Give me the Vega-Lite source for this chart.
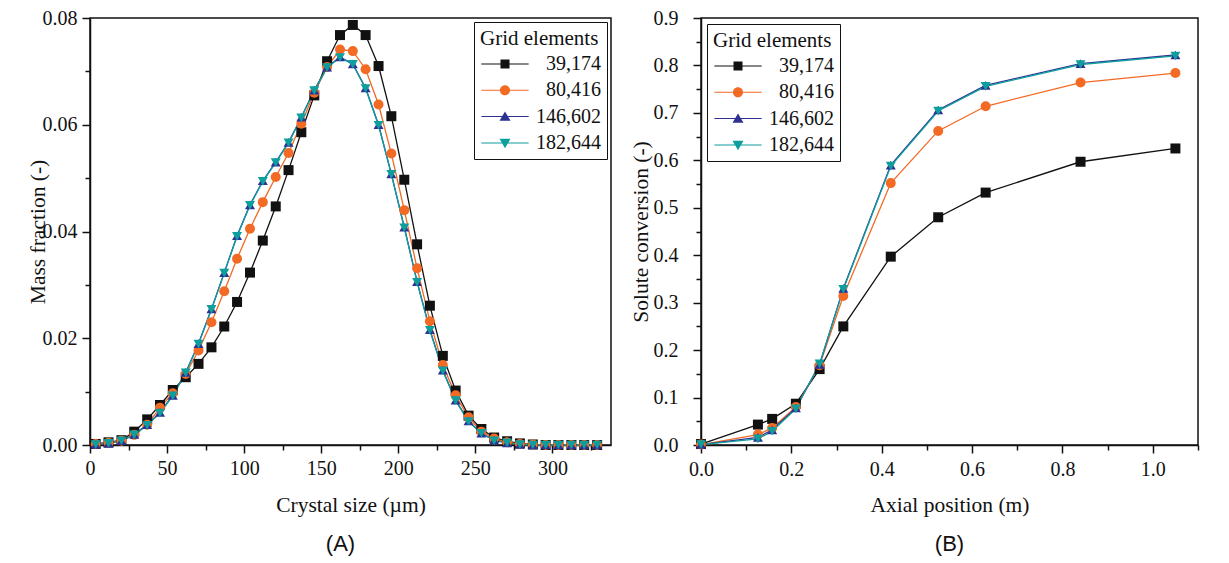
{
  "$schema": "https://vega.github.io/schema/vega-lite/v6.json",
  "background": "white",
  "padding": {"left": 26, "top": 7, "right": 0, "bottom": 0},
  "spacing": 17,
  "config": {
    "view": {"stroke": "#111111", "strokeWidth": 1.5},
    "axis": {
      "grid": false,
      "domainColor": "#111111",
      "domainWidth": 1.5,
      "tickColor": "#111111",
      "tickWidth": 1.5,
      "labelFont": "Liberation Serif",
      "labelFontSize": 20,
      "labelColor": "#111111",
      "titleFont": "Liberation Serif",
      "titleFontSize": 21.5,
      "titleFontWeight": "normal",
      "titleColor": "#111111"
    },
    "legend": {
      "fillColor": "white",
      "strokeColor": "#111111",
      "padding": 6,
      "titleFont": "Liberation Serif",
      "titleFontSize": 21,
      "titleFontWeight": "normal",
      "titleColor": "#111111",
      "titlePadding": 5,
      "labelFont": "Liberation Serif",
      "labelFontSize": 20,
      "labelColor": "#111111",
      "labelAlign": "right",
      "labelOffset": 86,
      "symbolOffset": 15,
      "symbolSize": 121,
      "symbolStrokeWidth": 0,
      "symbolOpacity": 1,
      "rowPadding": 6.3
    },
    "title": {"font": "Liberation Sans", "fontSize": 22, "fontWeight": "normal", "color": "#111111"}
  },
  "datasets": {
    "csd": [
      {"size": 3.7, "grid": "39,174", "mf": 0.0002}, {"size": 12.0, "grid": "39,174", "mf": 0.0005}, {"size": 20.4, "grid": "39,174", "mf": 0.0009}, {"size": 28.7, "grid": "39,174", "mf": 0.0025},
      {"size": 37.1, "grid": "39,174", "mf": 0.0048}, {"size": 45.4, "grid": "39,174", "mf": 0.0075}, {"size": 53.7, "grid": "39,174", "mf": 0.0103}, {"size": 62.1, "grid": "39,174", "mf": 0.0127},
      {"size": 70.4, "grid": "39,174", "mf": 0.0152}, {"size": 78.8, "grid": "39,174", "mf": 0.0183}, {"size": 87.1, "grid": "39,174", "mf": 0.0222}, {"size": 95.4, "grid": "39,174", "mf": 0.0268},
      {"size": 103.8, "grid": "39,174", "mf": 0.0323}, {"size": 112.1, "grid": "39,174", "mf": 0.0383}, {"size": 120.5, "grid": "39,174", "mf": 0.0447}, {"size": 128.8, "grid": "39,174", "mf": 0.0515},
      {"size": 137.1, "grid": "39,174", "mf": 0.0586}, {"size": 145.5, "grid": "39,174", "mf": 0.0655}, {"size": 153.8, "grid": "39,174", "mf": 0.0719}, {"size": 162.2, "grid": "39,174", "mf": 0.0768},
      {"size": 170.5, "grid": "39,174", "mf": 0.0787}, {"size": 178.8, "grid": "39,174", "mf": 0.0768}, {"size": 187.2, "grid": "39,174", "mf": 0.0710}, {"size": 195.5, "grid": "39,174", "mf": 0.0616},
      {"size": 203.9, "grid": "39,174", "mf": 0.0497}, {"size": 212.2, "grid": "39,174", "mf": 0.0376}, {"size": 220.5, "grid": "39,174", "mf": 0.0261}, {"size": 228.9, "grid": "39,174", "mf": 0.0167},
      {"size": 237.2, "grid": "39,174", "mf": 0.0102}, {"size": 245.6, "grid": "39,174", "mf": 0.0055}, {"size": 253.9, "grid": "39,174", "mf": 0.0030}, {"size": 262.2, "grid": "39,174", "mf": 0.0014},
      {"size": 270.6, "grid": "39,174", "mf": 0.0007}, {"size": 278.9, "grid": "39,174", "mf": 0.0003}, {"size": 287.3, "grid": "39,174", "mf": 0.0001}, {"size": 295.6, "grid": "39,174", "mf": 0.0},
      {"size": 303.9, "grid": "39,174", "mf": 0.0}, {"size": 312.3, "grid": "39,174", "mf": 0.0}, {"size": 320.6, "grid": "39,174", "mf": 0.0}, {"size": 329.0, "grid": "39,174", "mf": 0.0},

      {"size": 3.7, "grid": "80,416", "mf": 0.0002}, {"size": 12.0, "grid": "80,416", "mf": 0.0004}, {"size": 20.4, "grid": "80,416", "mf": 0.0008}, {"size": 28.7, "grid": "80,416", "mf": 0.0019},
      {"size": 37.1, "grid": "80,416", "mf": 0.0038}, {"size": 45.4, "grid": "80,416", "mf": 0.0070}, {"size": 53.7, "grid": "80,416", "mf": 0.0097}, {"size": 62.1, "grid": "80,416", "mf": 0.0133},
      {"size": 70.4, "grid": "80,416", "mf": 0.0177}, {"size": 78.8, "grid": "80,416", "mf": 0.0230}, {"size": 87.1, "grid": "80,416", "mf": 0.0288}, {"size": 95.4, "grid": "80,416", "mf": 0.0349},
      {"size": 103.8, "grid": "80,416", "mf": 0.0405}, {"size": 112.1, "grid": "80,416", "mf": 0.0455}, {"size": 120.5, "grid": "80,416", "mf": 0.0502}, {"size": 128.8, "grid": "80,416", "mf": 0.0547},
      {"size": 137.1, "grid": "80,416", "mf": 0.0602}, {"size": 145.5, "grid": "80,416", "mf": 0.0660}, {"size": 153.8, "grid": "80,416", "mf": 0.0708}, {"size": 162.2, "grid": "80,416", "mf": 0.0741},
      {"size": 170.5, "grid": "80,416", "mf": 0.0738}, {"size": 178.8, "grid": "80,416", "mf": 0.0704}, {"size": 187.2, "grid": "80,416", "mf": 0.0638}, {"size": 195.5, "grid": "80,416", "mf": 0.0546},
      {"size": 203.9, "grid": "80,416", "mf": 0.0440}, {"size": 212.2, "grid": "80,416", "mf": 0.0331}, {"size": 220.5, "grid": "80,416", "mf": 0.0232}, {"size": 228.9, "grid": "80,416", "mf": 0.0150},
      {"size": 237.2, "grid": "80,416", "mf": 0.0093}, {"size": 245.6, "grid": "80,416", "mf": 0.0052}, {"size": 253.9, "grid": "80,416", "mf": 0.0025}, {"size": 262.2, "grid": "80,416", "mf": 0.0012},
      {"size": 270.6, "grid": "80,416", "mf": 0.0005}, {"size": 278.9, "grid": "80,416", "mf": 0.0002}, {"size": 287.3, "grid": "80,416", "mf": 0.0001}, {"size": 295.6, "grid": "80,416", "mf": 0.0},
      {"size": 303.9, "grid": "80,416", "mf": 0.0}, {"size": 312.3, "grid": "80,416", "mf": 0.0}, {"size": 320.6, "grid": "80,416", "mf": 0.0}, {"size": 329.0, "grid": "80,416", "mf": 0.0},

      {"size": 3.7, "grid": "146,602", "mf": 0.0001}, {"size": 12.0, "grid": "146,602", "mf": 0.0003}, {"size": 20.4, "grid": "146,602", "mf": 0.0008}, {"size": 28.7, "grid": "146,602", "mf": 0.0020},
      {"size": 37.1, "grid": "146,602", "mf": 0.0038}, {"size": 45.4, "grid": "146,602", "mf": 0.0061}, {"size": 53.7, "grid": "146,602", "mf": 0.0093}, {"size": 62.1, "grid": "146,602", "mf": 0.0136},
      {"size": 70.4, "grid": "146,602", "mf": 0.0190}, {"size": 78.8, "grid": "146,602", "mf": 0.0255}, {"size": 87.1, "grid": "146,602", "mf": 0.0323}, {"size": 95.4, "grid": "146,602", "mf": 0.0392},
      {"size": 103.8, "grid": "146,602", "mf": 0.0450}, {"size": 112.1, "grid": "146,602", "mf": 0.0495}, {"size": 120.5, "grid": "146,602", "mf": 0.0530}, {"size": 128.8, "grid": "146,602", "mf": 0.0567},
      {"size": 137.1, "grid": "146,602", "mf": 0.0614}, {"size": 145.5, "grid": "146,602", "mf": 0.0665}, {"size": 153.8, "grid": "146,602", "mf": 0.0708}, {"size": 162.2, "grid": "146,602", "mf": 0.0727},
      {"size": 170.5, "grid": "146,602", "mf": 0.0714}, {"size": 178.8, "grid": "146,602", "mf": 0.0669}, {"size": 187.2, "grid": "146,602", "mf": 0.0600}, {"size": 195.5, "grid": "146,602", "mf": 0.0508},
      {"size": 203.9, "grid": "146,602", "mf": 0.0408}, {"size": 212.2, "grid": "146,602", "mf": 0.0306}, {"size": 220.5, "grid": "146,602", "mf": 0.0216}, {"size": 228.9, "grid": "146,602", "mf": 0.0140},
      {"size": 237.2, "grid": "146,602", "mf": 0.0084}, {"size": 245.6, "grid": "146,602", "mf": 0.0045}, {"size": 253.9, "grid": "146,602", "mf": 0.0022}, {"size": 262.2, "grid": "146,602", "mf": 0.0009},
      {"size": 270.6, "grid": "146,602", "mf": 0.0004}, {"size": 278.9, "grid": "146,602", "mf": 0.0001}, {"size": 287.3, "grid": "146,602", "mf": 0.0}, {"size": 295.6, "grid": "146,602", "mf": 0.0},
      {"size": 303.9, "grid": "146,602", "mf": 0.0}, {"size": 312.3, "grid": "146,602", "mf": 0.0}, {"size": 320.6, "grid": "146,602", "mf": 0.0}, {"size": 329.0, "grid": "146,602", "mf": 0.0},

      {"size": 3.7, "grid": "182,644", "mf": 0.0001}, {"size": 12.0, "grid": "182,644", "mf": 0.0003}, {"size": 20.4, "grid": "182,644", "mf": 0.0008}, {"size": 28.7, "grid": "182,644", "mf": 0.0019},
      {"size": 37.1, "grid": "182,644", "mf": 0.0037}, {"size": 45.4, "grid": "182,644", "mf": 0.0060}, {"size": 53.7, "grid": "182,644", "mf": 0.0092}, {"size": 62.1, "grid": "182,644", "mf": 0.0135},
      {"size": 70.4, "grid": "182,644", "mf": 0.0189}, {"size": 78.8, "grid": "182,644", "mf": 0.0254}, {"size": 87.1, "grid": "182,644", "mf": 0.0322}, {"size": 95.4, "grid": "182,644", "mf": 0.0391},
      {"size": 103.8, "grid": "182,644", "mf": 0.0449}, {"size": 112.1, "grid": "182,644", "mf": 0.0494}, {"size": 120.5, "grid": "182,644", "mf": 0.0529}, {"size": 128.8, "grid": "182,644", "mf": 0.0566},
      {"size": 137.1, "grid": "182,644", "mf": 0.0613}, {"size": 145.5, "grid": "182,644", "mf": 0.0664}, {"size": 153.8, "grid": "182,644", "mf": 0.0707}, {"size": 162.2, "grid": "182,644", "mf": 0.0726},
      {"size": 170.5, "grid": "182,644", "mf": 0.0713}, {"size": 178.8, "grid": "182,644", "mf": 0.0668}, {"size": 187.2, "grid": "182,644", "mf": 0.0599}, {"size": 195.5, "grid": "182,644", "mf": 0.0507},
      {"size": 203.9, "grid": "182,644", "mf": 0.0407}, {"size": 212.2, "grid": "182,644", "mf": 0.0305}, {"size": 220.5, "grid": "182,644", "mf": 0.0215}, {"size": 228.9, "grid": "182,644", "mf": 0.0139},
      {"size": 237.2, "grid": "182,644", "mf": 0.0083}, {"size": 245.6, "grid": "182,644", "mf": 0.0044}, {"size": 253.9, "grid": "182,644", "mf": 0.0022}, {"size": 262.2, "grid": "182,644", "mf": 0.0008},
      {"size": 270.6, "grid": "182,644", "mf": 0.0004}, {"size": 278.9, "grid": "182,644", "mf": 0.0001}, {"size": 287.3, "grid": "182,644", "mf": 0.0}, {"size": 295.6, "grid": "182,644", "mf": 0.0},
      {"size": 303.9, "grid": "182,644", "mf": 0.0}, {"size": 312.3, "grid": "182,644", "mf": 0.0}, {"size": 320.6, "grid": "182,644", "mf": 0.0}, {"size": 329.0, "grid": "182,644", "mf": 0.0}
    ],
    "conversion": [
      {"pos": 0.0, "grid": "39,174", "conv": 0.002}, {"pos": 0.126, "grid": "39,174", "conv": 0.043}, {"pos": 0.1575, "grid": "39,174", "conv": 0.055}, {"pos": 0.21, "grid": "39,174", "conv": 0.087},
      {"pos": 0.2625, "grid": "39,174", "conv": 0.160}, {"pos": 0.315, "grid": "39,174", "conv": 0.250}, {"pos": 0.42, "grid": "39,174", "conv": 0.397}, {"pos": 0.525, "grid": "39,174", "conv": 0.480},
      {"pos": 0.63, "grid": "39,174", "conv": 0.532}, {"pos": 0.84, "grid": "39,174", "conv": 0.597}, {"pos": 1.05, "grid": "39,174", "conv": 0.625},

      {"pos": 0.0, "grid": "80,416", "conv": 0.001}, {"pos": 0.126, "grid": "80,416", "conv": 0.022}, {"pos": 0.1575, "grid": "80,416", "conv": 0.036}, {"pos": 0.21, "grid": "80,416", "conv": 0.080},
      {"pos": 0.2625, "grid": "80,416", "conv": 0.168}, {"pos": 0.315, "grid": "80,416", "conv": 0.314}, {"pos": 0.42, "grid": "80,416", "conv": 0.552}, {"pos": 0.525, "grid": "80,416", "conv": 0.662},
      {"pos": 0.63, "grid": "80,416", "conv": 0.714}, {"pos": 0.84, "grid": "80,416", "conv": 0.764}, {"pos": 1.05, "grid": "80,416", "conv": 0.784},

      {"pos": 0.0, "grid": "146,602", "conv": 0.001}, {"pos": 0.126, "grid": "146,602", "conv": 0.016}, {"pos": 0.1575, "grid": "146,602", "conv": 0.032}, {"pos": 0.21, "grid": "146,602", "conv": 0.078},
      {"pos": 0.2625, "grid": "146,602", "conv": 0.170}, {"pos": 0.315, "grid": "146,602", "conv": 0.330}, {"pos": 0.42, "grid": "146,602", "conv": 0.590}, {"pos": 0.525, "grid": "146,602", "conv": 0.706},
      {"pos": 0.63, "grid": "146,602", "conv": 0.758}, {"pos": 0.84, "grid": "146,602", "conv": 0.804}, {"pos": 1.05, "grid": "146,602", "conv": 0.822},

      {"pos": 0.0, "grid": "182,644", "conv": 0.001}, {"pos": 0.126, "grid": "182,644", "conv": 0.013}, {"pos": 0.1575, "grid": "182,644", "conv": 0.029}, {"pos": 0.21, "grid": "182,644", "conv": 0.076},
      {"pos": 0.2625, "grid": "182,644", "conv": 0.171}, {"pos": 0.315, "grid": "182,644", "conv": 0.328}, {"pos": 0.42, "grid": "182,644", "conv": 0.588}, {"pos": 0.525, "grid": "182,644", "conv": 0.704},
      {"pos": 0.63, "grid": "182,644", "conv": 0.756}, {"pos": 0.84, "grid": "182,644", "conv": 0.802}, {"pos": 1.05, "grid": "182,644", "conv": 0.820}
    ]
  },
  "resolve": {"scale": {"color": "independent", "shape": "independent"}, "legend": {"color": "independent", "shape": "independent"}},
  "hconcat": [
    {
      "width": 521,
      "height": 427,
      "data": {"name": "csd"},
      "title": {"text": "(A)", "orient": "bottom", "offset": 18, "dx": -10},
      "resolve": {"scale": {"shape": "independent"}, "legend": {"shape": "independent", "color": "independent"}},
      "encoding": {
        "x": {
          "field": "size", "type": "quantitative",
          "scale": {"domain": [0, 338], "nice": false, "zero": false},
          "axis": {
            "title": "Crystal size (µm)",
            "values": [0, 25, 50, 75, 100, 125, 150, 175, 200, 225, 250, 275, 300, 325],
            "labelExpr": "datum.value % 50 === 0 ? format(datum.value, 'd') : ''",
            "tickSize": {"condition": {"test": "datum.value % 50 === 0", "value": 8}, "value": 5},
            "labelFont": "Liberation Serif",
            "labelFontSize": 20,
            "labelPadding": 5,
            "titlePadding": 16,
            "labelFlush": false,
            "labelOverlap": false
          }
        },
        "y": {
          "field": "mf", "type": "quantitative",
          "scale": {"domain": [0, 0.08], "nice": false},
          "axis": {
            "title": "Mass fraction (-)",
            "values": [0, 0.01, 0.02, 0.03, 0.04, 0.05, 0.06, 0.07, 0.08],
            "labelExpr": "round(datum.value * 100) % 2 === 0 ? format(datum.value, '.2f') : ''",
            "tickSize": {"condition": {"test": "round(datum.value * 100) % 2 === 0", "value": 8}, "value": 5},
            "labelFont": "Liberation Serif",
            "labelFontSize": 20,
            "labelPadding": 5,
            "titlePadding": -7,
            "labelFlush": false,
            "labelOverlap": false
          }
        }
      },
      "layer": [
        {
          "mark": {"type": "line", "strokeWidth": 1.3},
          "encoding": {
            "color": {
              "field": "grid", "type": "nominal", "legend": null,
              "scale": {"domain": ["39,174", "80,416", "146,602", "182,644"], "range": ["#111111", "#f26a24", "#2e3192", "#0e9e9e"]}
            }
          }
        },
        {
          "mark": {"type": "point", "filled": true, "opacity": 1, "strokeWidth": 0, "size": 100},
          "encoding": {
            "color": {"field": "grid", "type": "nominal", "legend": null},
            "shape": {
              "field": "grid", "type": "nominal", "legend": null,
              "scale": {"domain": ["39,174", "80,416", "146,602", "182,644"], "range": ["square", "circle", "triangle-up", "triangle-down"]}
            }
          }
        },
        {
          "transform": [{"filter": "false"}],
          "mark": {"type": "point", "filled": true, "opacity": 1, "strokeWidth": 0, "size": 121},
          "encoding": {
            "color": {
              "field": "grid", "type": "nominal",
              "legend": {"title": "Grid elements", "orient": "top-right", "offset": 4}
            },
            "shape": {
              "field": "grid", "type": "nominal", "legend": null,
              "scale": {
                "domain": ["39,174", "80,416", "146,602", "182,644"],
                "range": [
                  "M-4.3,-0.09H4.3V0.09H-4.3ZM-0.82,-0.82H0.82V0.82H-0.82Z",
                  "M-4.3,-0.09H4.3V0.09H-4.3ZM-0.92,0A0.92,0.92,0,1,1,0.92,0A0.92,0.92,0,1,1,-0.92,0Z",
                  "M-4.3,-0.09H4.3V0.09H-4.3ZM0,-0.95L1.0,0.75H-1.0Z",
                  "M-4.3,-0.09H4.3V0.09H-4.3ZM0,0.95L-1.0,-0.75H1.0Z"
                ]
              }
            }
          }
        }
      ]
    },
    {
      "width": 497,
      "height": 427,
      "data": {"name": "conversion"},
      "title": {"text": "(B)", "orient": "bottom", "offset": 18},
      "resolve": {"scale": {"shape": "independent"}, "legend": {"shape": "independent", "color": "independent"}},
      "encoding": {
        "x": {
          "field": "pos", "type": "quantitative",
          "scale": {"domain": [0, 1.1], "nice": false},
          "axis": {
            "title": "Axial position (m)",
            "values": [0, 0.1, 0.2, 0.3, 0.4, 0.5, 0.6, 0.7, 0.8, 0.9, 1.0, 1.1],
            "labelExpr": "round(datum.value * 10) % 2 === 0 && datum.value < 1.05 ? format(datum.value, '.1f') : ''",
            "tickSize": {"condition": {"test": "round(datum.value * 10) % 2 === 0", "value": 8}, "value": 5},
            "labelFont": "Liberation Serif",
            "labelFontSize": 20,
            "labelPadding": 6,
            "titlePadding": 15,
            "labelFlush": false,
            "labelOverlap": false
          }
        },
        "y": {
          "field": "conv", "type": "quantitative",
          "scale": {"domain": [0, 0.9], "nice": false},
          "axis": {
            "title": "Solute conversion (-)",
            "values": [0, 0.05, 0.1, 0.15, 0.2, 0.25, 0.3, 0.35, 0.4, 0.45, 0.5, 0.55, 0.6, 0.65, 0.7, 0.75, 0.8, 0.85, 0.9],
            "labelExpr": "round(datum.value * 100) % 10 === 0 ? format(datum.value, '.1f') : ''",
            "tickSize": {"condition": {"test": "round(datum.value * 100) % 10 === 0", "value": 8}, "value": 5},
            "labelFont": "Liberation Serif",
            "labelFontSize": 20,
            "labelPadding": 15,
            "titlePadding": 1,
            "labelFlush": false,
            "labelOverlap": false
          }
        }
      },
      "layer": [
        {
          "mark": {"type": "line", "strokeWidth": 1.3},
          "encoding": {
            "color": {
              "field": "grid", "type": "nominal", "legend": null,
              "scale": {"domain": ["39,174", "80,416", "146,602", "182,644"], "range": ["#111111", "#f26a24", "#2e3192", "#0e9e9e"]}
            }
          }
        },
        {
          "mark": {"type": "point", "filled": true, "opacity": 1, "strokeWidth": 0, "size": 100},
          "encoding": {
            "color": {"field": "grid", "type": "nominal", "legend": null},
            "shape": {
              "field": "grid", "type": "nominal", "legend": null,
              "scale": {"domain": ["39,174", "80,416", "146,602", "182,644"], "range": ["square", "circle", "triangle-up", "triangle-down"]}
            }
          }
        },
        {
          "transform": [{"filter": "false"}],
          "mark": {"type": "point", "filled": true, "opacity": 1, "strokeWidth": 0, "size": 121},
          "encoding": {
            "color": {
              "field": "grid", "type": "nominal",
              "legend": {"title": "Grid elements", "orient": "top-left", "offset": 6}
            },
            "shape": {
              "field": "grid", "type": "nominal", "legend": null,
              "scale": {
                "domain": ["39,174", "80,416", "146,602", "182,644"],
                "range": [
                  "M-4.3,-0.09H4.3V0.09H-4.3ZM-0.82,-0.82H0.82V0.82H-0.82Z",
                  "M-4.3,-0.09H4.3V0.09H-4.3ZM-0.92,0A0.92,0.92,0,1,1,0.92,0A0.92,0.92,0,1,1,-0.92,0Z",
                  "M-4.3,-0.09H4.3V0.09H-4.3ZM0,-0.95L1.0,0.75H-1.0Z",
                  "M-4.3,-0.09H4.3V0.09H-4.3ZM0,0.95L-1.0,-0.75H1.0Z"
                ]
              }
            }
          }
        }
      ]
    }
  ]
}
